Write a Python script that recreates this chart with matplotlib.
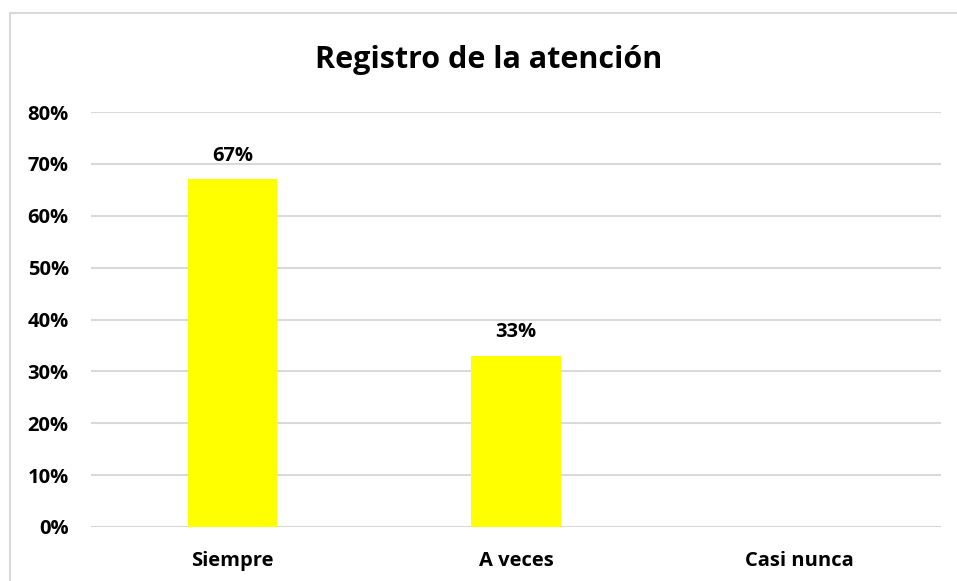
import matplotlib.pyplot as plt
from matplotlib.patches import Rectangle
from matplotlib.ticker import PercentFormatter

categorias = ['Siempre', 'A veces', 'Casi nunca']
porcentajes = [67, 33, 0]
ticks_y = [0, 10, 20, 30, 40, 50, 60, 70, 80]

plt.rcParams['font.family'] = ['Open Sans', 'DejaVu Sans']
plt.rcParams['font.weight'] = 'bold'

fig = plt.figure(figsize=(9.57, 5.81), dpi=100)
ax = fig.add_axes([91 / 957, 1 - 527 / 581, 850 / 957, 415 / 581])

# marco gris del gráfico (como en Excel)
fig.patches.append(Rectangle((10 / 957, -0.1), 1.0, (581 - 13) / 581 + 0.1,
                             transform=fig.transFigure, fill=False,
                             edgecolor='#d9d9d9', linewidth=1.5))

x = range(len(categorias))
barras = ax.bar(x, porcentajes, width=0.315, color='#ffff00', zorder=3)
for b, v in zip(barras, porcentajes):
    if v > 0:
        ax.annotate(f'{v}%', (b.get_x() + b.get_width() / 2, v),
                    xytext=(0, 17), textcoords='offset points',
                    ha='center', va='center', fontsize=14.5, fontweight='bold')

ax.set_xlim(-0.5, 2.5)
ax.set_ylim(0, 80)
ax.set_yticks(ticks_y)
ax.yaxis.set_major_formatter(PercentFormatter(decimals=0))
ax.set_xticks(list(x))
ax.set_xticklabels(categorias)
ax.tick_params(axis='both', length=0, labelsize=14.5)
ax.tick_params(axis='y', pad=16)
ax.tick_params(axis='x', pad=17)
for lbl in ax.get_xticklabels() + ax.get_yticklabels():
    lbl.set_fontweight('bold')

ax.grid(axis='y', color='#d9d9d9', linewidth=1.5, zorder=0)
for s in ax.spines.values():
    s.set_visible(False)

fig.text(489 / 957, 1 - 60 / 581, 'Registro de la atención',
         ha='center', va='center', fontsize=22, fontweight='bold')

fig.savefig('out.png', dpi=100)
